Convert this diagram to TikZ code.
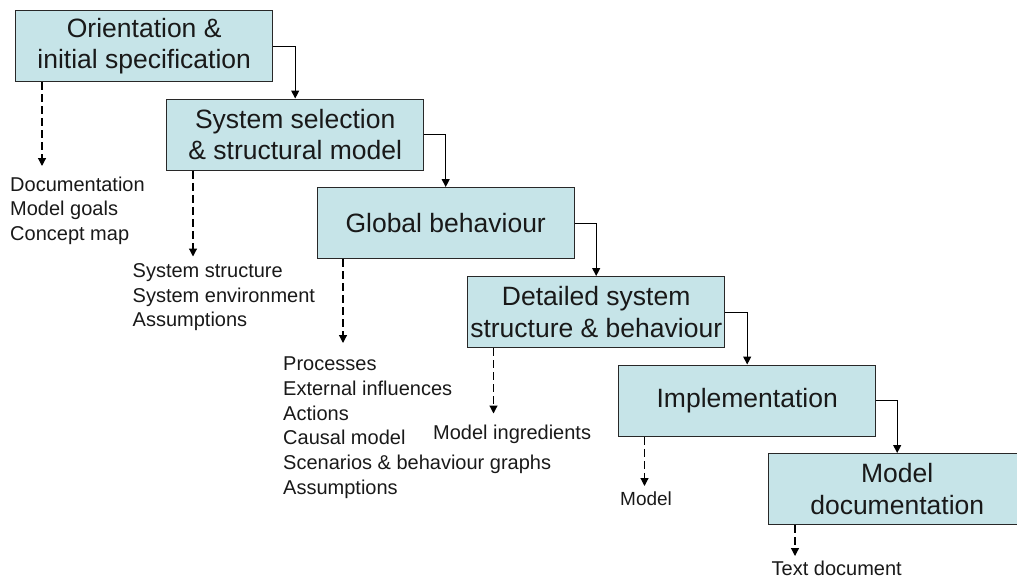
\documentclass[tikz,border=0pt]{standalone}
\usepackage{fontspec}
\setmainfont{Liberation Sans}
\usetikzlibrary{arrows.meta}
\definecolor{boxfill}{RGB}{198,228,232}
\definecolor{boxline}{RGB}{40,40,40}
\definecolor{txt}{RGB}{25,25,25}
\begin{document}
\begin{tikzpicture}[x=1pt,y=-1pt,
  stage/.style={draw=boxline, line width=1.4pt, fill=boxfill, minimum width=257pt, minimum height=71pt, inner sep=0pt, align=center, text=txt, font=\fontsize{26.5}{31.5}\selectfont, anchor=north west},
  flow/.style={draw=black, line width=1.2pt, -{Triangle[width=8pt,length=8pt]}},
  outflow/.style={flow, dash pattern=on 8pt off 4pt},
  outtext/.style={anchor=base west, inner sep=0pt, align=left, text=txt, font=\fontsize{20}{24.7}\selectfont}
]
\useasboundingbox (0,0) rectangle (1017,578);

\node[stage] (b1) at (15,10) {Orientation \&\\initial specification};
\node[stage] (b2) at (166,98.5) {System selection\\\& structural model};
\node[stage] (b3) at (316.5,187) {Global behaviour};
\node[stage] (b4) at (467,276) {Detailed system\\structure \& behaviour};
\node[stage] (b5) at (618,364.5) {Implementation};
\node[stage] (b6) at (768,453) {Model\\documentation};

\draw[flow] (b1.east) -| (b2.north);
\draw[flow] (b2.east) -| (b3.north);
\draw[flow] (b3.east) -| (b4.north);
\draw[flow] (b4.east) -| (b5.north);
\draw[flow] (b5.east) -| (b6.north);

\coordinate (e1) at (42,166);
\coordinate (e2) at (193,256.5);
\coordinate (e3) at (343,343);
\coordinate (e4) at (493.5,413.5);
\coordinate (e5) at (644.5,486);
\coordinate (e6) at (795,556);
\draw[outflow] (b1.south -| e1) -- (e1);
\draw[outflow] (b2.south -| e2) -- (e2);
\draw[outflow] (b3.south -| e3) -- (e3);
\draw[outflow] (b4.south -| e4) -- (e4);
\draw[outflow] (b5.south -| e5) -- (e5);
\draw[outflow] (b6.south -| e6) -- (e6);

% base anchor of a multi-line node is the baseline of its last line
\node[outtext] (t1) at (10,240.4) {Documentation\\Model goals\\Concept map};
\node[outtext] (t2) at (132.5,326.7) {System structure\\System environment\\Assumptions};
\node[outtext] (t3) at (283,494.2) {Processes\\External influences\\Actions\\Causal model\\Scenarios \& behaviour graphs\\Assumptions};
\node[outtext] (t4) at (433,439) {Model ingredients};
\node[outtext, font=\fontsize{19}{23}\selectfont] (t5) at (620,505) {Model};
\node[outtext] (t6) at (771.5,575) {Text document};
\end{tikzpicture}
\end{document}
